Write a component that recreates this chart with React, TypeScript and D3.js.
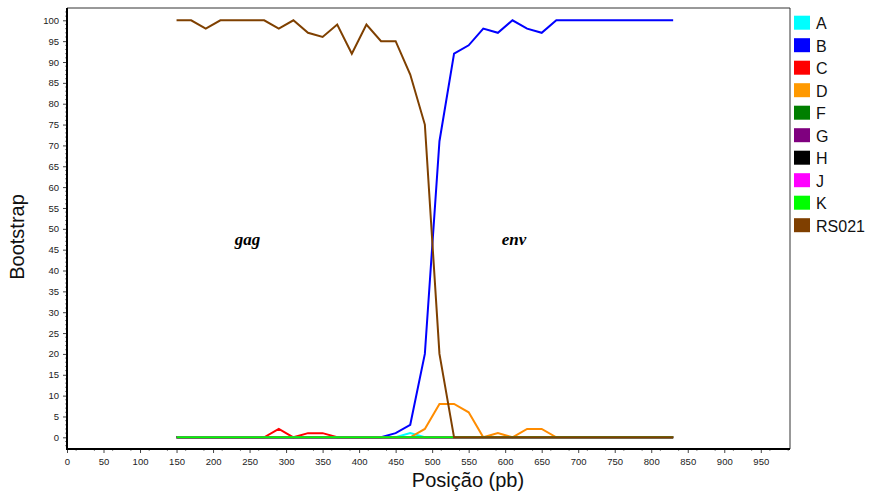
import React, { useEffect, useRef } from "react";
import * as d3 from "d3";

// positions (pb) of the sliding windows
const positions = [150, 170, 190, 210, 230, 250, 270, 290, 310, 330, 350, 370, 390, 410, 430, 450, 470, 490, 510, 530, 550, 570, 590, 610, 630, 650, 670, 690, 710, 730, 750, 770, 790, 810, 830];

const zeros = positions.map(() => 0);

const serieA = [0, 0, 0, 0, 0, 0, 0, 0, 0, 0, 0, 0, 0, 0, 0, 0, 1, 0, 0, 0, 0, 0, 0, 0, 0, 0, 0, 0, 0, 0, 0, 0, 0, 0, 0];
const serieB = [0, 0, 0, 0, 0, 0, 0, 0, 0, 0, 0, 0, 0, 0, 0, 1, 3, 20, 71, 92, 94, 98, 97, 100, 98, 97, 100, 100, 100, 100, 100, 100, 100, 100, 100];
const serieC = [0, 0, 0, 0, 0, 0, 0, 2, 0, 1, 1, 0, 0, 0, 0, 0, 0, 0, 0, 0, 0, 0, 0, 0, 0, 0, 0, 0, 0, 0, 0, 0, 0, 0, 0];
const serieD = [0, 0, 0, 0, 0, 0, 0, 0, 0, 0, 0, 0, 0, 0, 0, 0, 0, 2, 8, 8, 6, 0, 1, 0, 2, 2, 0, 0, 0, 0, 0, 0, 0, 0, 0];
const serieRS021 = [100, 100, 98, 100, 100, 100, 100, 98, 100, 97, 96, 99, 92, 99, 95, 95, 87, 75, 20, 0, 0, 0, 0, 0, 0, 0, 0, 0, 0, 0, 0, 0, 0, 0, 0];

const series = [
  { name: "A", color: "#00ffff", values: serieA },
  { name: "B", color: "#0000ff", values: serieB },
  { name: "C", color: "#ff0000", values: serieC },
  { name: "D", color: "#ff8c00", values: serieD },
  { name: "F", color: "#008000", values: zeros },
  { name: "G", color: "#800080", values: zeros },
  { name: "H", color: "#000000", values: zeros },
  { name: "J", color: "#ff00ff", values: zeros },
  { name: "K", color: "#00ff00", values: zeros },
  { name: "RS021", color: "#7f4000", values: serieRS021 },
];

const legendColors = ["#00ffff", "#0000ff", "#ff0000", "#ff9900", "#007f00", "#7f007f", "#000000", "#ff00ff", "#00ff00", "#7f3f00"];

const xTicks = d3.range(0, 951, 50);
const yTicks = d3.range(0, 101, 5);

const App = () => {
  const svgRef = useRef<SVGSVGElement>(null);

  useEffect(() => {
    const svg = d3.select(svgRef.current);
    svg.selectAll("*").remove();

    const left = 67, right = 790, top = 8, bottom = 449;

    const x = d3.scaleLinear().domain([0, 990]).range([left, right]);
    const y = d3.scaleLinear().domain([-2.8, 102.95]).range([bottom, top]);

    svg.append("rect").attr("width", 872).attr("height", 499).attr("fill", "#fff");

    // frame (top + right)
    svg.append("path")
      .attr("d", `M${left},${top}H${right}V${bottom}`)
      .attr("fill", "none")
      .attr("stroke", "#333")
      .attr("stroke-width", 1);

    // lines
    const line = d3.line<number>()
      .x((d, i) => x(positions[i]))
      .y((d) => y(d));

    series.forEach((s) => {
      svg.append("path")
        .datum(s.values)
        .attr("d", line)
        .attr("fill", "none")
        .attr("stroke", s.color)
        .attr("stroke-width", 2)
        .attr("stroke-linejoin", "miter");
    });

    // y axis
    const yAxis = d3.axisLeft(y).tickValues(yTicks).tickSize(4).tickPadding(4);
    const gy = svg.append("g").attr("transform", `translate(${left},0)`).call(yAxis);
    gy.select(".domain").remove();
    gy.selectAll("text").attr("font-family", "Arial, 'Liberation Sans', sans-serif").attr("font-size", 9.5).attr("fill", "#222");
    gy.selectAll("line").attr("stroke", "#444");
    svg.append("g")
      .selectAll("line")
      .data(d3.range(-2, 103, 1).filter((v) => v % 5 !== 0))
      .join("line")
      .attr("x1", left - 2).attr("x2", left)
      .attr("y1", (d) => y(d)).attr("y2", (d) => y(d))
      .attr("stroke", "#888");

    // x axis
    const xAxis = d3.axisBottom(x).tickValues(xTicks).tickSize(4).tickPadding(5);
    const gx = svg.append("g").attr("transform", `translate(0,${bottom})`).call(xAxis);
    gx.select(".domain").remove();
    gx.selectAll("text").attr("font-family", "Arial, 'Liberation Sans', sans-serif").attr("font-size", 9.5).attr("fill", "#222");
    gx.selectAll("line").attr("stroke", "#444");
    svg.append("g")
      .selectAll("line")
      .data(d3.range(12.5, 990, 25))
      .join("line")
      .attr("x1", (d) => x(d)).attr("x2", (d) => x(d))
      .attr("y1", bottom).attr("y2", bottom + 2)
      .attr("stroke", "#888");

    // axis lines
    svg.append("line").attr("x1", left).attr("x2", left).attr("y1", top).attr("y2", bottom + 1)
      .attr("stroke", "#000").attr("stroke-width", 2);
    svg.append("line").attr("x1", left - 1).attr("x2", right).attr("y1", bottom).attr("y2", bottom)
      .attr("stroke", "#000").attr("stroke-width", 2);

    // gene labels
    const gene = [{ t: "gag", x: 247, y: 46 }, { t: "env", x: 612, y: 46 }];
    svg.append("g")
      .selectAll("text")
      .data(gene)
      .join("text")
      .attr("x", (d) => x(d.x))
      .attr("y", (d) => y(d.y))
      .attr("text-anchor", "middle")
      .attr("font-family", "'Times New Roman', 'Liberation Serif', serif")
      .attr("font-style", "italic")
      .attr("font-weight", "bold")
      .attr("font-size", 17)
      .text((d) => d.t);

    // axis titles
    svg.append("text")
      .attr("transform", "translate(24,237) rotate(-90)")
      .attr("text-anchor", "middle")
      .attr("font-family", "Arial, 'Liberation Sans', sans-serif")
      .attr("font-size", 20)
      .attr("fill", "#111")
      .text("Bootstrap");

    svg.append("text")
      .attr("x", 468)
      .attr("y", 487)
      .attr("text-anchor", "middle")
      .attr("font-family", "Arial, 'Liberation Sans', sans-serif")
      .attr("font-size", 20)
      .attr("fill", "#111")
      .text("Posição (pb)");

    // legend
    const lg = svg.append("g").selectAll("g").data(series).join("g")
      .attr("transform", (d, i) => `translate(794,${15.7 + i * 22.5})`);
    lg.append("rect")
      .attr("width", 16).attr("height", 14)
      .attr("fill", (d, i) => legendColors[i]);
    lg.append("text")
      .attr("x", 22).attr("y", 13.5)
      .attr("font-family", "Arial, 'Liberation Sans', sans-serif")
      .attr("font-size", 16)
      .attr("fill", "#111")
      .text((d) => d.name);
  }, []);

  return (
    <svg ref={svgRef} width={872} height={499} style={{ position: "absolute", left: 0, top: 0 }}></svg>
  );
};

export default App;
